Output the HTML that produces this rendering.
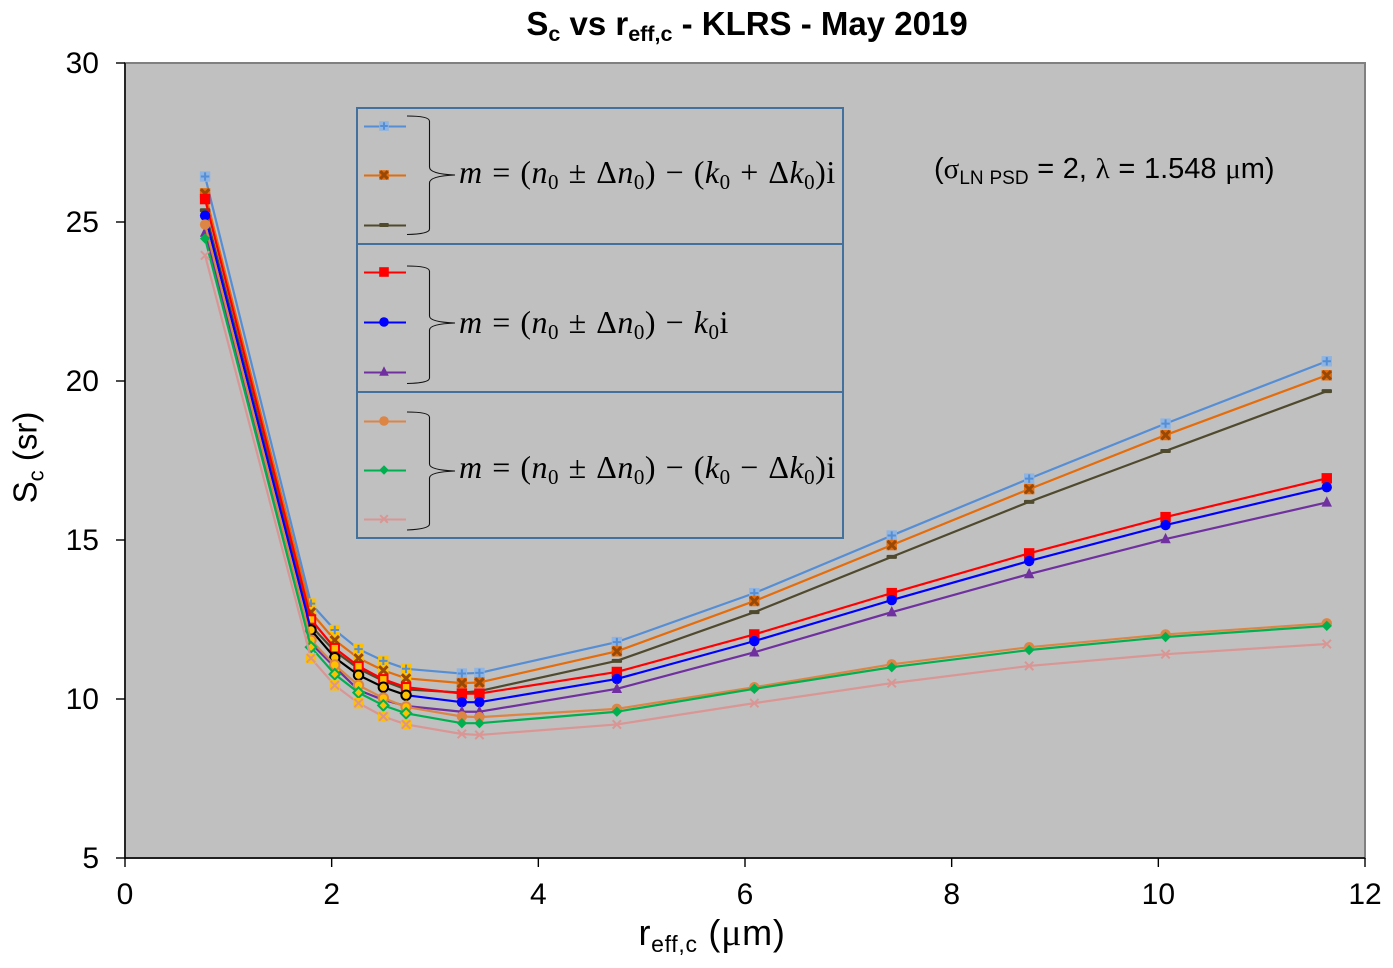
<!DOCTYPE html>
<html><head><meta charset="utf-8"><title>Sc vs reff,c</title>
<style>
html,body{margin:0;padding:0;background:#fff}
svg{display:block}
text{font-family:"Liberation Sans",sans-serif;fill:#000}
.math{font-family:"Liberation Serif","DejaVu Serif",serif;font-size:32px;letter-spacing:0.5px;word-spacing:1.1px}
.greek{font-family:"Liberation Serif",serif}
</style></head>
<body>
<svg id="chart" xmlns="http://www.w3.org/2000/svg" width="1393" height="968" viewBox="0 0 1393 968">
<rect width="1393" height="968" fill="#fff"/>
<rect x="125" y="63" width="1240" height="795" fill="#c0c0c0" stroke="#808080" stroke-width="2"/>
<g id="series-layer"></g>
<g id="axis-layer"></g>

<text x="747" y="35" text-anchor="middle" font-size="33" font-weight="bold">S<tspan font-size="21.5" dy="6">c</tspan><tspan dy="-6"> vs r</tspan><tspan font-size="21.5" dy="6">eff,c</tspan><tspan dy="-6"> - KLRS - May 2019</tspan></text>
<text x="712" y="945" text-anchor="middle" font-size="36" letter-spacing="0.7">r<tspan font-size="23" dy="7">eff,c</tspan><tspan dy="-7"> (</tspan><tspan class="greek" font-size="38">μ</tspan><tspan>m)</tspan></text>
<text transform="translate(36.500,457.500) rotate(-90)" text-anchor="middle" font-size="33">S<tspan font-size="22" dy="7">c</tspan><tspan dy="-7"> (sr)</tspan></text>
<text x="934" y="178" font-size="29" word-spacing="0.600">(<tspan class="greek">σ</tspan><tspan font-size="19" dy="6">LN PSD</tspan><tspan dy="-6"> = 2, </tspan><tspan class="greek">λ</tspan><tspan> = 1.548 </tspan><tspan class="greek">μ</tspan><tspan>m)</tspan></text>

<g fill="none" stroke="#41719c" stroke-width="2">
<rect x="357" y="108" width="486" height="136"/>
<rect x="357" y="244" width="486" height="148"/>
<rect x="357" y="392" width="486" height="146"/>
</g>
<g fill="none" stroke="#111" stroke-width="1.1">
<path d="M407 116 Q429 116 429.500 121 V167 Q429.500 174 455 175 Q429.500 176 429.500 183 V229 Q429.500 234 407 234.500"/>
<path d="M407 266 Q429 266 429.500 271 V316 Q429.500 322 455 323 Q429.500 324 429.500 330 V378 Q429.500 383 407 383.500"/>
<path d="M407 412 Q429 412 429.500 417 V464 Q429.500 470 455 471 Q429.500 472 429.500 478 V524 Q429.500 529 407 530"/>
</g>
<text class="math" x="459" y="183"><tspan font-style="italic">m</tspan> = (<tspan font-style="italic">n</tspan><tspan font-size="21" dy="6">0</tspan><tspan dy="-6"> ± Δ</tspan><tspan font-style="italic">n</tspan><tspan font-size="21" dy="6">0</tspan><tspan dy="-6">) − (</tspan><tspan font-style="italic">k</tspan><tspan font-size="21" dy="6">0</tspan><tspan dy="-6"> + Δ</tspan><tspan font-style="italic">k</tspan><tspan font-size="21" dy="6">0</tspan><tspan dy="-6">)i</tspan></text>
<text class="math" x="459" y="333"><tspan font-style="italic">m</tspan> = (<tspan font-style="italic">n</tspan><tspan font-size="21" dy="6">0</tspan><tspan dy="-6"> ± Δ</tspan><tspan font-style="italic">n</tspan><tspan font-size="21" dy="6">0</tspan><tspan dy="-6">) − </tspan><tspan font-style="italic">k</tspan><tspan font-size="21" dy="6">0</tspan><tspan dy="-6">i</tspan></text>
<text class="math" x="459" y="478"><tspan font-style="italic">m</tspan> = (<tspan font-style="italic">n</tspan><tspan font-size="21" dy="6">0</tspan><tspan dy="-6"> ± Δ</tspan><tspan font-style="italic">n</tspan><tspan font-size="21" dy="6">0</tspan><tspan dy="-6">) − (</tspan><tspan font-style="italic">k</tspan><tspan font-size="21" dy="6">0</tspan><tspan dy="-6"> − Δ</tspan><tspan font-style="italic">k</tspan><tspan font-size="21" dy="6">0</tspan><tspan dy="-6">)i</tspan></text>
<g id="legend-layer"></g>
</svg>
<script>
const categories = [0.775, 1.80, 2.03, 2.26, 2.50, 2.72, 3.26, 3.43, 4.76, 6.09, 7.42, 8.75, 10.07, 11.63];
const xTicks = [0, 2, 4, 6, 8, 10, 12];
const yTicks = [5, 10, 15, 20, 25, 30];
const nkPlusUpper = [26.43, 13.0, 12.17, 11.57, 11.2, 10.95, 10.8, 10.82, 11.79, 13.33, 15.14, 16.93, 18.66, 20.62];
const nkPlusMid = [25.9, 12.73, 11.85, 11.28, 10.9, 10.65, 10.5, 10.52, 11.5, 13.08, 14.84, 16.6, 18.3, 20.18];
const nkPlusLower = [25.37, 12.3, 11.5, 10.95, 10.57, 10.3, 10.2, 10.25, 11.2, 12.73, 14.47, 16.2, 17.8, 19.68];
const kFixedUpper = [25.72, 12.5, 11.6, 11.03, 10.62, 10.37, 10.17, 10.17, 10.85, 12.03, 13.33, 14.58, 15.72, 16.94];
const kFixedMid = [25.2, 12.17, 11.3, 10.75, 10.37, 10.12, 9.9, 9.9, 10.63, 11.82, 13.11, 14.34, 15.47, 16.66];
const kFixedLower = [24.67, 11.75, 11.0, 10.28, 9.97, 9.78, 9.6, 9.6, 10.32, 11.47, 12.73, 13.93, 15.03, 16.18];
const nkMinusUpper = [24.92, 11.85, 11.07, 10.43, 10.03, 9.75, 9.45, 9.43, 9.69, 10.37, 11.09, 11.63, 12.03, 12.38];
const nkMinusMid = [24.48, 11.63, 10.78, 10.2, 9.8, 9.55, 9.24, 9.24, 9.6, 10.32, 11.0, 11.54, 11.95, 12.3];
const nkMinusLower = [23.95, 11.28, 10.43, 9.87, 9.45, 9.2, 8.9, 8.87, 9.2, 9.87, 10.5, 11.04, 11.41, 11.73];
const seriesNames = ['nk-plus-upper','nk-plus-mid','nk-plus-lower','k-fixed-upper','k-fixed-mid','k-fixed-lower','nk-minus-upper','nk-minus-mid','nk-minus-lower'];
const seriesValues = [nkPlusUpper, nkPlusMid, nkPlusLower, kFixedUpper, kFixedMid, kFixedLower, nkMinusUpper, nkMinusMid, nkMinusLower];
const highlightRange = [1, 5];

const NS = 'http://www.w3.org/2000/svg';
const X0 = 125, X1 = 1365, Y0 = 858, Y1 = 63;
const xScale = v => X0 + (v - 0) * (X1 - X0) / 12;
const yScale = v => Y0 - (v - 5) * (Y0 - Y1) / 25;
const GOLD = '#ffc000';
const styles = [
  {line:'#558ed5', fill:'#8db4e2', glyph:'plus', ink:'#558ed5', box:true},
  {line:'#e46c0a', fill:'#e46c0a', glyph:'cross', ink:'#984807', box:true},
  {line:'#4f4a2e', fill:'#4f4a2e', glyph:'dash', ink:'#4f4a2e'},
  {line:'#ff0000', fill:'#ff0000', glyph:'square', ink:'#ff0000'},
  {line:'#0000ff', fill:'#0000ff', glyph:'circle', ink:'#000000', hiLine:'#000000'},
  {line:'#7030a0', fill:'#7030a0', glyph:'triangle', ink:'#7030a0'},
  {line:'#dd8544', fill:'#dd8544', glyph:'circle', ink:'#dd8544'},
  {line:'#00b050', fill:'#00b050', glyph:'diamond', ink:'#00b050'},
  {line:'#d99694', fill:'none', glyph:'xthin', ink:'#d99694', goldBox:true}
];
function el(tag, attrs, parent) {
  const e = document.createElementNS(NS, tag);
  for (const k in attrs) e.setAttribute(k, attrs[k]);
  parent.appendChild(e);
  return e;
}
function drawMarker(parent, cx, cy, st, hi, r) {
  const g = el('g', {}, parent);
  
  
  const face = hi ? GOLD : st.fill;
  const edge = hi ? st.ink : st.fill;
  if (st.glyph === 'plus' || st.glyph === 'cross' || st.glyph === 'xthin') {
    if (st.box || (hi && st.goldBox)) el('rect', {x:cx-r, y:cy-r, width:2*r, height:2*r, fill:face}, g);
    const a = r - 1;
    const d = st.glyph === 'plus'
      ? `M${cx-a} ${cy}H${cx+a}M${cx} ${cy-a}V${cy+a}`
      : `M${cx-a} ${cy-a}L${cx+a} ${cy+a}M${cx+a} ${cy-a}L${cx-a} ${cy+a}`;
    el('path', {d:d, stroke:st.ink, 'stroke-width':st.glyph === 'cross' ? 3 : 2, fill:'none'}, g);
  } else if (st.glyph === 'dash') {
    el('rect', {x:cx-r, y:cy-2, width:2*r, height:4, rx:1, fill:st.fill}, g);
  } else if (st.glyph === 'square') {
    el('rect', {x:cx-r+(hi?1:0), y:cy-r+(hi?1:0), width:2*r-(hi?2:0), height:2*r-(hi?2:0), fill:face, stroke:edge, 'stroke-width':hi?2:0}, g);
  } else if (st.glyph === 'circle') {
    el('circle', {cx:cx, cy:cy, r:hi?r-0.5:r, fill:face, stroke:edge, 'stroke-width':hi?2:0}, g);
  } else if (st.glyph === 'triangle') {
    el('path', {d:`M${cx} ${cy-r-1}L${cx+r} ${cy+r-1}H${cx-r}Z`, fill:face}, g);
  } else if (st.glyph === 'diamond') {
    el('path', {d:`M${cx} ${cy-r}L${cx+r} ${cy}L${cx} ${cy+r}L${cx-r} ${cy}Z`, fill:face, stroke:edge, 'stroke-width':hi?2:0}, g);
  }
}
function drawSeries() {
  const layer = document.getElementById('series-layer');
  seriesValues.forEach((vals, s) => {
    const st = styles[s];
    const g = el('g', {}, layer);
    
    
    const pts = vals.map((v, i) => [xScale(categories[i]), yScale(v)]);
    for (let i = 0; i < pts.length - 1; i++) {
      const inHi = st.hiLine && i >= highlightRange[0] && i < highlightRange[1];
      const seg = el('line', {x1:pts[i][0], y1:pts[i][1], x2:pts[i+1][0], y2:pts[i+1][1], stroke:inHi ? st.hiLine : st.line, 'stroke-width':2.2}, g);
      
      
    }
    pts.forEach((p, i) => {
      const hi = i >= highlightRange[0] && i <= highlightRange[1];
      drawMarker(g, p[0], p[1], st, hi, 5.2);
    });
  });
}
function drawAxes() {
  const layer = document.getElementById('axis-layer');
  const yAxis = el('line', {x1:X0, y1:Y1, x2:X0, y2:Y0, stroke:'#000', 'stroke-width':1.4}, layer);
  
  
  const xAxis = el('line', {x1:X0, y1:Y0, x2:X1, y2:Y0, stroke:'#000', 'stroke-width':1.4}, layer);
  
  
  xTicks.forEach(t => {
    const x = xScale(t);
    const tick = el('line', {x1:x, y1:Y0, x2:x, y2:Y0 + 9, stroke:'#000', 'stroke-width':1.4}, layer);
    
    
    const label = el('text', {x:x, y:904, 'text-anchor':'middle', 'font-size':30}, layer);
    
    
    label.textContent = t;
  });
  yTicks.forEach(t => {
    const y = yScale(t);
    const tick = el('line', {x1:X0 - 9, y1:y, x2:X0, y2:y, stroke:'#000', 'stroke-width':1.4}, layer);
    
    
    const label = el('text', {x:99, y:y + 10, 'text-anchor':'end', 'font-size':30}, layer);
    
    
    label.textContent = t;
  });
}
const legendRows = [126, 175, 225, 272, 322, 372, 421, 470, 519];
function drawLegend() {
  const layer = document.getElementById('legend-layer');
  legendRows.forEach((rowY, s) => {
    const st = styles[s];
    const g = el('g', {}, layer);
    
    
    el('line', {x1:364, y1:rowY + 0.5, x2:406, y2:rowY + 0.5, stroke:st.line, 'stroke-width':2}, g);
    drawMarker(g, 384, rowY, st, false, 4.8);
  });
}
drawSeries();
drawAxes();
drawLegend();
</script>
</body></html>
